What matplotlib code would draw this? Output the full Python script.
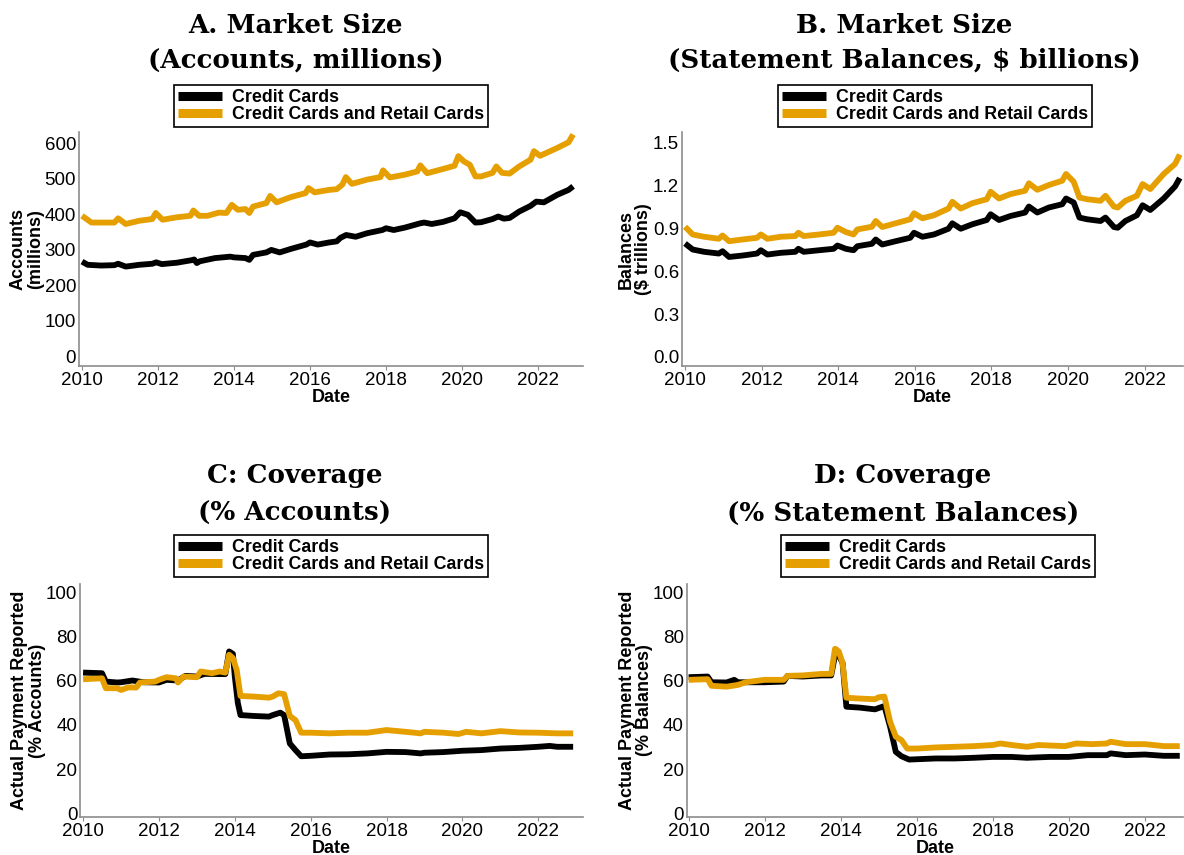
import matplotlib
matplotlib.use("Agg")
import matplotlib.pyplot as plt

# ---- data (decimal year, value) ----
labels = ["Credit Cards", "Credit Cards and Retail Cards"]
colors = ["black", "#E69F00"]

# A. accounts, millions
acc_cc_dates = [2010.00, 2010.15, 2010.50, 2010.85, 2010.95, 2011.15, 2011.50, 2011.85, 2011.95, 2012.10,
                2012.50, 2012.88, 2012.95, 2013.02, 2013.10, 2013.50, 2013.90, 2014.00, 2014.30, 2014.40,
                2014.50, 2014.85, 2014.98, 2015.20, 2015.50, 2015.90, 2016.00, 2016.20, 2016.50, 2016.70,
                2016.80, 2016.95, 2017.20, 2017.50, 2017.90, 2018.00, 2018.20, 2018.50, 2018.90, 2019.00,
                2019.20, 2019.50, 2019.80, 2019.95, 2020.15, 2020.35, 2020.50, 2020.80, 2020.95, 2021.10,
                2021.25, 2021.50, 2021.80, 2021.95, 2022.15, 2022.50, 2022.80, 2022.92]
acc_cc = [266, 257, 255, 256, 260, 252, 257, 260, 264, 259,
          263, 270, 272, 262, 267, 276, 280, 278, 276, 271,
          285, 292, 299, 292, 302, 314, 320, 314, 320, 323,
          333, 341, 336, 346, 355, 360, 355, 362, 374, 376,
          372, 378, 388, 405, 398, 376, 377, 386, 393, 387,
          389, 407, 423, 435, 433, 454, 468, 478]

acc_all_dates = [2010.00, 2010.25, 2010.60, 2010.85, 2010.95, 2011.15, 2011.50, 2011.85, 2011.94, 2012.12,
                 2012.50, 2012.85, 2012.93, 2013.08, 2013.30, 2013.60, 2013.80, 2013.94, 2014.10, 2014.30,
                 2014.40, 2014.50, 2014.85, 2014.95, 2015.12, 2015.50, 2015.88, 2015.96, 2016.12, 2016.50,
                 2016.70, 2016.85, 2016.94, 2017.10, 2017.50, 2017.85, 2017.92, 2018.10, 2018.50, 2018.82,
                 2018.90, 2019.08, 2019.50, 2019.80, 2019.90, 2020.05, 2020.20, 2020.35, 2020.50, 2020.80,
                 2020.90, 2021.05, 2021.25, 2021.50, 2021.80, 2021.89, 2022.05, 2022.50, 2022.80, 2022.92]
acc_all = [395, 376, 376, 376, 388, 372, 381, 386, 403, 384,
           391, 395, 410, 395, 395, 404, 403, 426, 412, 414,
           403, 421, 431, 451, 433, 448, 459, 473, 461, 468,
           470, 483, 504, 485, 497, 504, 523, 503, 511, 520,
           537, 515, 527, 536, 563, 548, 539, 506, 506, 516,
           534, 516, 514, 534, 553, 577, 564, 586, 602, 624]

# B. statement balances, $ trillions
bal_dates = [2010.00, 2010.20, 2010.50, 2010.88, 2010.98, 2011.15, 2011.50, 2011.88, 2011.98, 2012.15,
             2012.50, 2012.88, 2012.96, 2013.10, 2013.50, 2013.88, 2013.98, 2014.20, 2014.40, 2014.50,
             2014.88, 2014.98, 2015.15, 2015.50, 2015.88, 2015.98, 2016.20, 2016.50, 2016.88, 2016.98,
             2017.20, 2017.50, 2017.88, 2017.98, 2018.20, 2018.50, 2018.88, 2018.98, 2019.20, 2019.50,
             2019.85, 2019.95, 2020.15, 2020.30, 2020.50, 2020.85, 2020.98, 2021.20, 2021.30, 2021.50,
             2021.80, 2021.95, 2022.15, 2022.50, 2022.80, 2022.92]
bal_cc = [0.792, 0.750, 0.734, 0.722, 0.738, 0.698, 0.708, 0.722, 0.745, 0.715,
          0.727, 0.734, 0.755, 0.734, 0.745, 0.755, 0.778, 0.755, 0.745, 0.773,
          0.790, 0.820, 0.785, 0.808, 0.832, 0.867, 0.839, 0.855, 0.895, 0.933,
          0.895, 0.926, 0.956, 0.996, 0.956, 0.984, 1.008, 1.050, 1.008, 1.043,
          1.066, 1.106, 1.078, 0.973, 0.961, 0.949, 0.973, 0.907, 0.902, 0.949,
          0.989, 1.059, 1.026, 1.106, 1.191, 1.249]
bal_all = [0.909, 0.855, 0.839, 0.825, 0.848, 0.808, 0.820, 0.832, 0.855, 0.825,
           0.839, 0.844, 0.867, 0.844, 0.855, 0.867, 0.902, 0.872, 0.855, 0.890,
           0.909, 0.949, 0.907, 0.933, 0.961, 1.003, 0.968, 0.989, 1.036, 1.083,
           1.036, 1.073, 1.101, 1.153, 1.106, 1.137, 1.160, 1.212, 1.167, 1.200,
           1.230, 1.277, 1.223, 1.113, 1.101, 1.090, 1.125, 1.050, 1.043, 1.090,
           1.125, 1.207, 1.172, 1.277, 1.348, 1.413]

# C. coverage, % accounts
cov_acc_cc_dates = [2010.00, 2010.50, 2010.60, 2010.90, 2011.00, 2011.30, 2011.60, 2012.00, 2012.20, 2012.50,
                    2012.70, 2013.00, 2013.20, 2013.75, 2013.85, 2013.95, 2014.00, 2014.08, 2014.15, 2014.50,
                    2014.90, 2015.00, 2015.20, 2015.30, 2015.45, 2015.60, 2015.75, 2016.00, 2016.50, 2017.00,
                    2017.50, 2018.00, 2018.50, 2018.90, 2019.00, 2019.50, 2020.00, 2020.50, 2021.00, 2021.50,
                    2022.00, 2022.30, 2022.50, 2022.92]
cov_acc_cc = [63.8, 63.5, 59.7, 59.3, 59.4, 60.2, 59.4, 59.3, 60.5, 60.2,
              62.3, 62.0, 63.2, 63.1, 73.4, 72.3, 62.0, 50.0, 44.5, 44.1,
              43.8, 44.5, 45.6, 44.5, 31.6, 28.6, 25.8, 26.0, 26.6, 26.7,
              27.1, 27.8, 27.7, 27.1, 27.4, 27.7, 28.3, 28.6, 29.3, 29.6,
              30.1, 30.5, 30.1, 30.1]

cov_acc_all_dates = [2010.00, 2010.50, 2010.60, 2010.90, 2011.00, 2011.20, 2011.40, 2011.50, 2011.90, 2012.00,
                     2012.20, 2012.45, 2012.50, 2012.65, 2013.00, 2013.10, 2013.40, 2013.60, 2013.75, 2013.85,
                     2013.95, 2014.05, 2014.15, 2014.50, 2014.90, 2015.00, 2015.15, 2015.30, 2015.45, 2015.60,
                     2015.75, 2016.00, 2016.50, 2017.00, 2017.50, 2018.00, 2018.50, 2018.90, 2019.00, 2019.50,
                     2019.90, 2020.10, 2020.50, 2021.00, 2021.50, 2022.00, 2022.50, 2022.92]
cov_acc_all = [60.8, 61.2, 56.7, 56.7, 55.9, 57.1, 57.0, 59.3, 59.7, 60.5,
               61.7, 61.2, 59.3, 62.0, 61.7, 64.3, 63.5, 64.3, 63.8, 71.9,
               70.4, 65.0, 53.2, 52.9, 52.4, 52.9, 54.4, 54.0, 44.1, 42.2,
               36.5, 36.5, 36.2, 36.5, 36.5, 37.7, 36.9, 36.2, 36.9, 36.5,
               35.9, 36.9, 36.2, 37.2, 36.6, 36.5, 36.2, 36.2]

# D. coverage, % balances
cov_bal_cc_dates = [2010.00, 2010.50, 2010.60, 2011.00, 2011.20, 2011.30, 2012.00, 2012.50, 2012.60, 2013.00,
                    2013.50, 2013.75, 2013.88, 2014.05, 2014.15, 2014.50, 2014.90, 2015.15, 2015.30, 2015.45,
                    2015.60, 2015.80, 2016.50, 2017.00, 2017.50, 2018.00, 2018.50, 2018.90, 2019.50, 2020.00,
                    2020.50, 2021.00, 2021.10, 2021.50, 2022.00, 2022.50, 2022.92]
cov_bal_cc = [61.7, 62.0, 59.4, 59.3, 60.5, 59.4, 59.4, 59.7, 62.3, 62.0,
              62.5, 62.5, 74.2, 68.1, 48.3, 47.9, 47.1, 48.6, 39.2, 27.8,
              25.8, 24.3, 24.8, 24.8, 25.1, 25.5, 25.5, 25.1, 25.5, 25.5,
              26.3, 26.3, 27.1, 26.3, 26.6, 26.0, 26.0]

cov_bal_all_dates = [2010.00, 2010.50, 2010.60, 2011.00, 2011.30, 2011.50, 2012.00, 2012.50, 2012.60, 2013.00,
                     2013.50, 2013.75, 2013.85, 2013.95, 2014.05, 2014.15, 2014.50, 2014.90, 2015.00, 2015.15,
                     2015.30, 2015.45, 2015.60, 2015.75, 2016.00, 2016.50, 2017.00, 2017.50, 2018.00, 2018.20,
                     2018.50, 2018.90, 2019.20, 2019.90, 2020.20, 2020.60, 2021.00, 2021.10, 2021.50, 2022.00,
                     2022.50, 2022.92]
cov_bal_all = [60.5, 60.8, 57.8, 57.4, 58.2, 59.4, 60.5, 60.5, 62.3, 62.5,
               63.2, 63.2, 74.6, 73.4, 68.1, 52.4, 52.0, 51.7, 52.6, 52.9,
               41.5, 34.7, 33.1, 29.3, 29.3, 29.8, 30.1, 30.4, 30.9, 31.6,
               30.9, 30.1, 30.9, 30.4, 31.6, 31.3, 31.6, 32.4, 31.3, 31.3,
               30.4, 30.4]

year_ticks = [2010, 2012, 2014, 2016, 2018, 2020, 2022]

plt.rcParams["font.family"] = ["Liberation Sans", "DejaVu Sans"]

fig = plt.figure(figsize=(11.84, 8.55), dpi=100)

panels = [
    dict(rect=[0.0667, 0.5719, 0.4257, 0.2737], title=("A. Market Size", "(Accounts, millions)"),
         tx=296, ty=(33, 68), ylabel="Accounts\n(millions)", lx=-0.069,
         series=[(acc_cc_dates, acc_cc), (acc_all_dates, acc_all)],
         yticks=[0, 100, 200, 300, 400, 500, 600], yfmt="{:.0f}", ylim=(-28, 631),
         xlim=(2009.92, 2023.18), leg=(331, 106)),
    dict(rect=[0.576, 0.5719, 0.423, 0.2737], title=("B. Market Size", "(Statement Balances, $ billions)"),
         tx=904, ty=(33, 68), ylabel="Balances\n($ trillions)", lx=-0.06,
         series=[(bal_dates, bal_cc), (bal_dates, bal_all)],
         yticks=[0.0, 0.3, 0.6, 0.9, 1.2, 1.5], yfmt="{:.1f}", ylim=(-0.063, 1.57),
         xlim=(2009.92, 2023.0), leg=(935, 106)),
    dict(rect=[0.0676, 0.0444, 0.4248, 0.2725], title=("C: Coverage", "(% Accounts)"),
         tx=295, ty=(483, 521), ylabel="Actual Payment Reported\n(% Accounts)", lx=-0.068,
         series=[(cov_acc_cc_dates, cov_acc_cc), (cov_acc_all_dates, cov_acc_all)],
         yticks=[0, 20, 40, 60, 80, 100], yfmt="{:.0f}", ylim=(-1.8, 104),
         xlim=(2009.92, 2023.18), leg=(331, 556)),
    dict(rect=[0.580, 0.0444, 0.419, 0.2725], title=("D: Coverage", "(% Statement Balances)"),
         tx=903, ty=(483, 521), ylabel="Actual Payment Reported\n(% Balances)", lx=-0.067,
         series=[(cov_bal_cc_dates, cov_bal_cc), (cov_bal_all_dates, cov_bal_all)],
         yticks=[0, 20, 40, 60, 80, 100], yfmt="{:.0f}", ylim=(-1.8, 104),
         xlim=(2009.95, 2023.0), leg=(938, 556)),
]

W, H = 1184, 855
for p in panels:
    ax = fig.add_axes(p["rect"])
    for (x, y), c, lab in zip(p["series"], colors, labels):
        ax.plot(x, y, color=c, lw=4.2, label=lab, solid_joinstyle="round", solid_capstyle="butt")
    ax.set_xlim(*p["xlim"])
    ax.set_ylim(*p["ylim"])
    ax.set_xticks(year_ticks)
    ax.set_xticklabels([str(t) for t in year_ticks])
    ax.set_yticks(p["yticks"])
    ax.set_yticklabels([p["yfmt"].format(t) for t in p["yticks"]])
    for side in ["top", "right"]:
        ax.spines[side].set_visible(False)
    for side in ["left", "bottom"]:
        ax.spines[side].set_color("#8c8c8c")
        ax.spines[side].set_linewidth(1.2)
    ax.tick_params(axis="x", length=3, color="#8c8c8c", labelsize=13.5, pad=1)
    ax.tick_params(axis="y", length=0, labelsize=13.5, pad=2)
    ax.set_xlabel("Date", fontsize=13, fontweight="bold", labelpad=0)
    ax.set_ylabel(p["ylabel"], fontsize=13, fontweight="bold", linespacing=1.05)
    ax.yaxis.set_label_coords(p["lx"], 0.5)

    for line, ty in zip(p["title"], p["ty"]):
        fig.text(p["tx"] / W, 1 - ty / H, line, ha="center", va="baseline",
                 fontsize=18.8, fontweight="bold", family=["DejaVu Serif"])

    leg = ax.legend(loc="center", bbox_to_anchor=(p["leg"][0] / W, 1 - p["leg"][1] / H),
                    bbox_transform=fig.transFigure, fancybox=False, edgecolor="black",
                    framealpha=1, fontsize=12.8, handlelength=2.5, handletextpad=0.55,
                    labelspacing=0.02, borderpad=0.2, borderaxespad=0)
    leg.get_frame().set_linewidth(1.2)
    for t in leg.get_texts():
        t.set_fontweight("bold")
    for h in leg.get_lines():
        h.set_linewidth(6.5)

fig.savefig("out.png", dpi=100)
